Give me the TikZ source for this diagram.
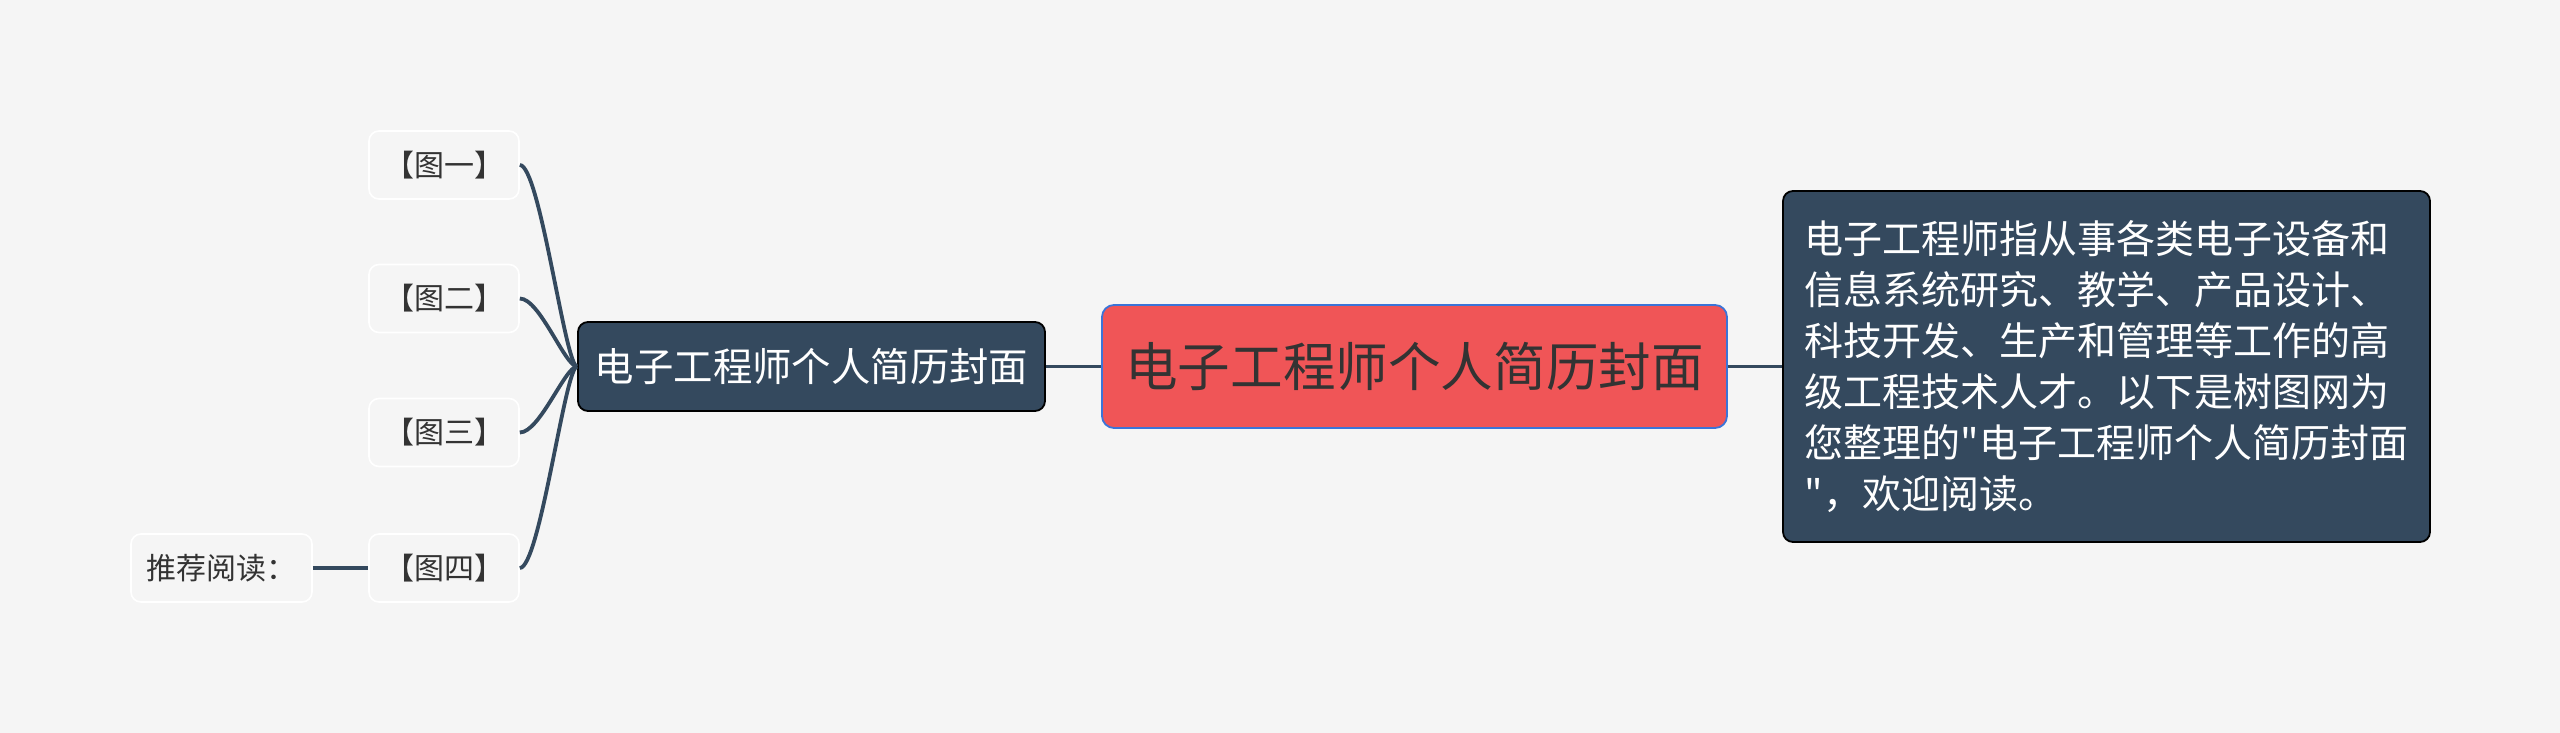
\documentclass[tikz,border=0pt]{standalone}
\usepackage{fontspec}
\newfontfamily\cjk{Noto Sans CJK SC}
\usepackage{tikz}
\definecolor{bgcol}{HTML}{F5F5F5}
\definecolor{navy}{HTML}{34495E}
\definecolor{coral}{HTML}{F05557}
\definecolor{rimblue}{HTML}{3B74D8}
\definecolor{inkgray}{HTML}{333333}
\tikzset{
  every node/.style = {font=\cjk, inner sep=0pt},
  leaf/.style = {draw=white, line width=0.8pt, fill=bgcol, rounded corners=5pt,
    minimum height=34pt, text=inkgray, font=\cjk\fontsize{15}{18}\selectfont},
  branch/.style = {draw=black, line width=0.9pt, fill=navy, rounded corners=5pt,
    text=white, font=\cjk\fontsize{19.7}{24}\selectfont},
  root/.style = {draw=rimblue, line width=0.9pt, fill=coral, rounded corners=6pt,
    text=inkgray, font=\cjk\fontsize{26.3}{30}\selectfont},
  link/.style = {draw=navy, line width=1.9pt}
}

\begin{document}
\begin{tikzpicture}[x=0.5pt,y=-0.5pt]

  \fill[bgcol] (0,0) rectangle (2560,733);
  \useasboundingbox (0,0) rectangle (2560,733);

  \node[root, minimum width=312.5pt, minimum height=61.5pt] (root) at (1414.5,366.5) {电子工程师个人简历封面};
  \node[branch, minimum width=233.5pt, minimum height=44.5pt] (title) at (811.5,366.5) {电子工程师个人简历封面};
  \node[branch, minimum width=323.5pt, minimum height=175.5pt, align=left,
        font=\cjk\fontsize{19.5}{25.5}\selectfont] (intro) at (2106.5,366.5)
    {电子工程师指从事各类电子设备和\\信息系统研究、教学、产品设计、\\科技开发、生产和管理等工作的高\\级工程技术人才。以下是树图网为\\您整理的"电子工程师个人简历封面\\"，欢迎阅读。};

  \node[leaf, minimum width=75pt] (fig1) at (444,165) {【图一】};
  \node[leaf, minimum width=75pt] (fig2) at (444,298.5) {【图二】};
  \node[leaf, minimum width=75pt] (fig3) at (444,432.5) {【图三】};
  \node[leaf, minimum width=75pt] (fig4) at (444,568) {【图四】};
  \node[leaf, minimum width=90.5pt] (more) at (221.5,568) {推荐阅读：};

  \draw[link] (root.west) -- (title.east);
  \draw[link] (root.east) -- (intro.west);
  \draw[link] (more.east) -- (fig4.west);

  \foreach \f in {fig1,fig2,fig3,fig4}
    \draw[link] (\f.east) .. controls +(20,0) and +(-12,0) .. (title.west);
\end{tikzpicture}
\end{document}
